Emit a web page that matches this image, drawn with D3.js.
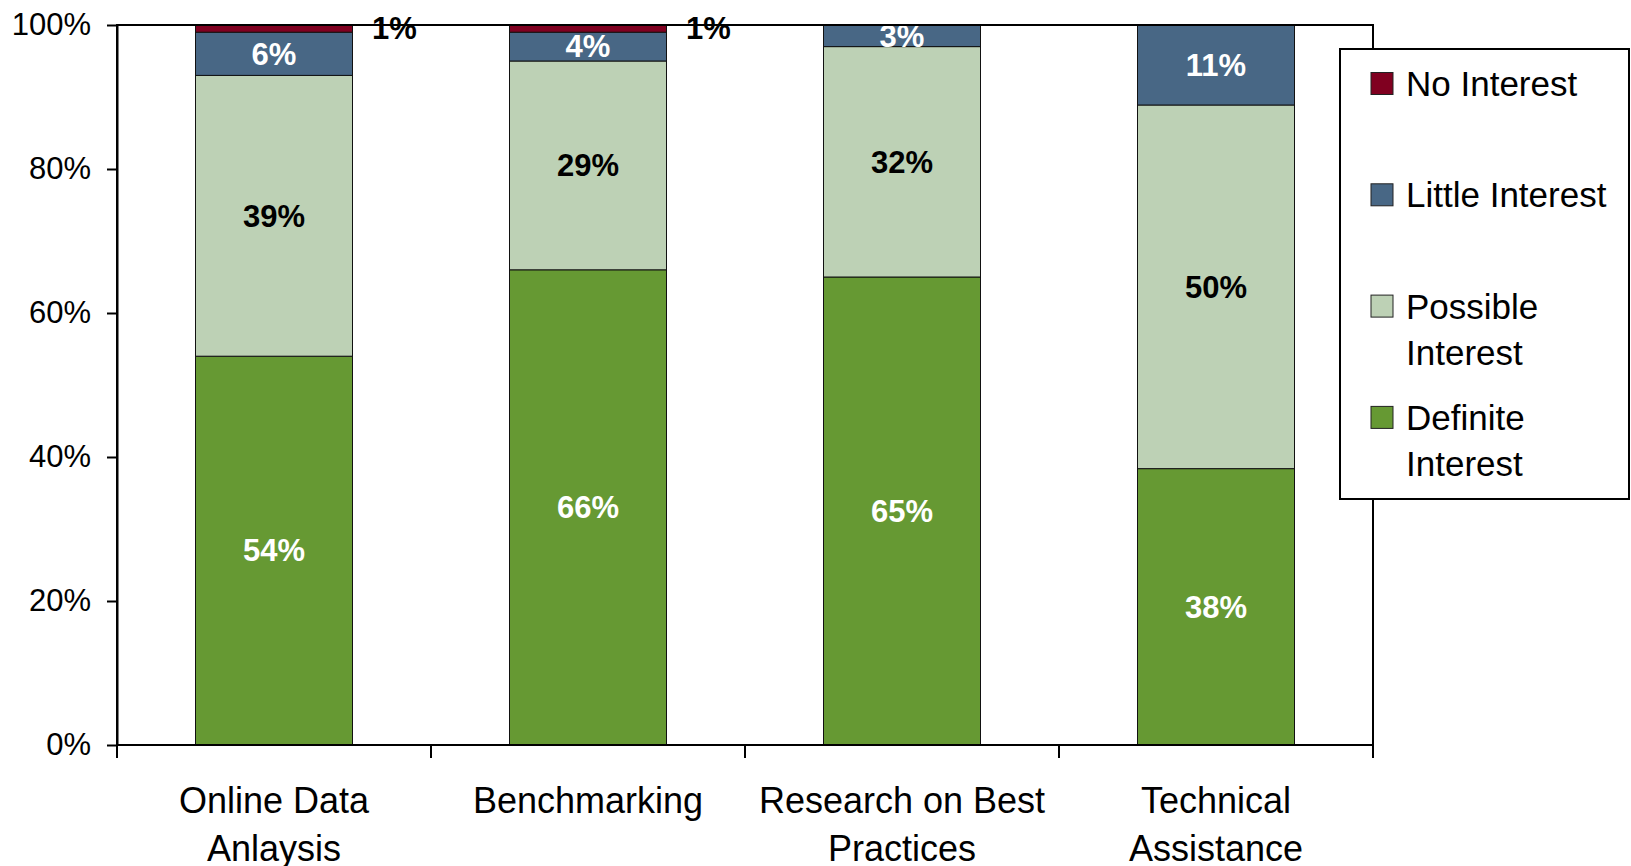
<!DOCTYPE html>
<html>
<head>
<meta charset="utf-8">
<script src="https://cdn.jsdelivr.net/npm/d3@7"></script>
<style>
  body { margin: 0; background: #fff; }
  svg text { font-family: 'Liberation Sans', Arial, sans-serif; }
</style>
</head>
<body>
<svg id="chart"></svg>
<script>
const categories = ['Online Data Anlaysis', 'Benchmarking', 'Research on Best Practices', 'Technical Assistance'];
const series = ['Definite Interest', 'Possible Interest', 'Little Interest', 'No Interest'];

const definite = [54, 66, 65, 38];
const possible = [39, 29, 32, 50];
const little = [6, 4, 3, 11];
const noInterest = [1, 1, 0, 0];

const yTicks = [0, 20, 40, 60, 80, 100];

const colors = ['#669933', '#bdd1b5', '#486785', '#800020'];
const labelColors = ['#fff', '#000', '#fff', '#000'];

const rows = categories.map((c, i) => ({
    'category': c,
    'Definite Interest': definite[i],
    'Possible Interest': possible[i],
    'Little Interest': little[i],
    'No Interest': noInterest[i]
}));

draw_chart();

function draw_chart() {
    /* Set the dimensions for the graph. */
    const margin = {top: 25, right: 258, bottom: 121, left: 117};
    const width = 1631 - margin.left - margin.right;
    const height = 866 - margin.top - margin.bottom;

    const svg = d3.select('#chart')
        .attr('width', 1631)
        .attr('height', 866);

    const g = svg.append('g')
        .attr('transform', 'translate(' + margin.left + ',' + margin.top + ')');

    const x = d3.scaleBand()
        .domain(categories)
        .range([0, width])
        .paddingInner(0.5)
        .paddingOuter(0.25);

    const y = d3.scaleLinear()
        .domain([0, 1])
        .range([height, 0]);

    const color = d3.scaleOrdinal().domain(series).range(colors);
    const labelColor = d3.scaleOrdinal().domain(series).range(labelColors);

    /* 100% stacked, like the spreadsheet did it */
    const stacked = d3.stack()
        .keys(series)
        .offset(d3.stackOffsetExpand)(rows);

    /* Adding bars in the chart */
    const layer = g.selectAll('.layer')
        .data(stacked)
        .enter().append('g')
        .attr('class', 'layer')
        .attr('fill', d => color(d.key));

    layer.selectAll('rect')
        .data(d => d.filter(v => v.data[d.key] > 0))
        .enter().append('rect')
        .attr('x', d => x(d.data.category))
        .attr('width', x.bandwidth())
        .attr('y', d => y(d[1]))
        .attr('height', d => y(d[0]) - y(d[1]))
        .attr('stroke', '#111')
        .attr('stroke-width', 1);

    /* plot area frame */
    g.append('rect')
        .attr('width', width)
        .attr('height', height)
        .attr('fill', 'none')
        .attr('stroke', '#000')
        .attr('stroke-width', 2);

    /* y axis */
    const yAxis = g.append('g')
        .call(d3.axisLeft(y)
            .tickValues(yTicks.map(v => v / 100))
            .tickFormat(d3.format('.0%'))
            .tickSize(10)
            .tickSizeOuter(0)
            .tickPadding(16));
    yAxis.select('.domain').attr('stroke', '#000').attr('stroke-width', 2);
    yAxis.selectAll('.tick line').attr('stroke', '#000').attr('stroke-width', 2);
    yAxis.selectAll('.tick text')
        .attr('fill', '#000')
        .style('font-size', '31px');

    /* category separators under the axis */
    g.selectAll('.xtick')
        .data(d3.range(categories.length + 1))
        .enter().append('line')
        .attr('class', 'xtick')
        .attr('x1', i => i * x.step())
        .attr('x2', i => i * x.step())
        .attr('y1', height)
        .attr('y2', height + 13)
        .attr('stroke', '#000')
        .attr('stroke-width', 2);

    g.selectAll('.xlabel')
        .data(categories)
        .enter().append('text')
        .attr('class', 'xlabel')
        .attr('x', d => x(d) + x.bandwidth() / 2)
        .attr('y', height + 68)
        .attr('text-anchor', 'middle')
        .style('font-size', '36px')
        .text(d => d)
        .call(wrap, x.step(), 48);

    /* value labels */
    layer.selectAll('.value')
        .data(d => d.filter(v => v.data[d.key] > 0).map(v => ({key: d.key, v: v})))
        .enter().append('text')
        .attr('class', 'value')
        .attr('x', d => d.key === 'No Interest'
            ? x(d.v.data.category) + x.bandwidth() + 42
            : x(d.v.data.category) + x.bandwidth() / 2)
        .attr('y', d => (y(d.v[0]) + y(d.v[1])) / 2)
        .attr('dy', '0.35em')
        .attr('text-anchor', 'middle')
        .attr('fill', d => labelColor(d.key))
        .style('font-size', '31px')
        .style('font-weight', 'bold')
        .text(d => d.v.data[d.key] + '%');

    /* Adding legend */
    const legend = svg.append('g')
        .attr('transform', 'translate(1340,49)');

    legend.append('rect')
        .attr('width', 289)
        .attr('height', 450)
        .attr('fill', '#fff')
        .attr('stroke', '#000')
        .attr('stroke-width', 2);

    const item = legend.selectAll('.item')
        .data(series.slice().reverse())
        .enter().append('g')
        .attr('class', 'item')
        .attr('transform', (d, i) => 'translate(0,' + (34.5 + i * 111.3) + ')');

    item.append('rect')
        .attr('x', 31)
        .attr('y', -11)
        .attr('width', 22)
        .attr('height', 22)
        .attr('fill', d => color(d))
        .attr('stroke', '#222')
        .attr('stroke-width', 1);

    item.append('text')
        .attr('x', 66)
        .attr('y', 12.5)
        .style('font-size', '35px')
        .text(d => d)
        .call(wrap, 220, 46);
}

function wrap(text, width, lineHeight) {
    text.each(function() {
        const t = d3.select(this);
        const words = t.text().split(/\s+/);
        const x0 = t.attr('x');
        const y0 = +t.attr('y');
        t.text(null);
        let line = [];
        let lineNo = 0;
        let tspan = t.append('tspan').attr('x', x0).attr('y', y0);
        words.forEach(w => {
            line.push(w);
            tspan.text(line.join(' '));
            if (tspan.node().getComputedTextLength() > width && line.length > 1) {
                line.pop();
                tspan.text(line.join(' '));
                line = [w];
                lineNo++;
                tspan = t.append('tspan')
                    .attr('x', x0)
                    .attr('y', y0 + lineNo * lineHeight)
                    .text(w);
            }
        });
    });
}
</script>
</body>
</html>
